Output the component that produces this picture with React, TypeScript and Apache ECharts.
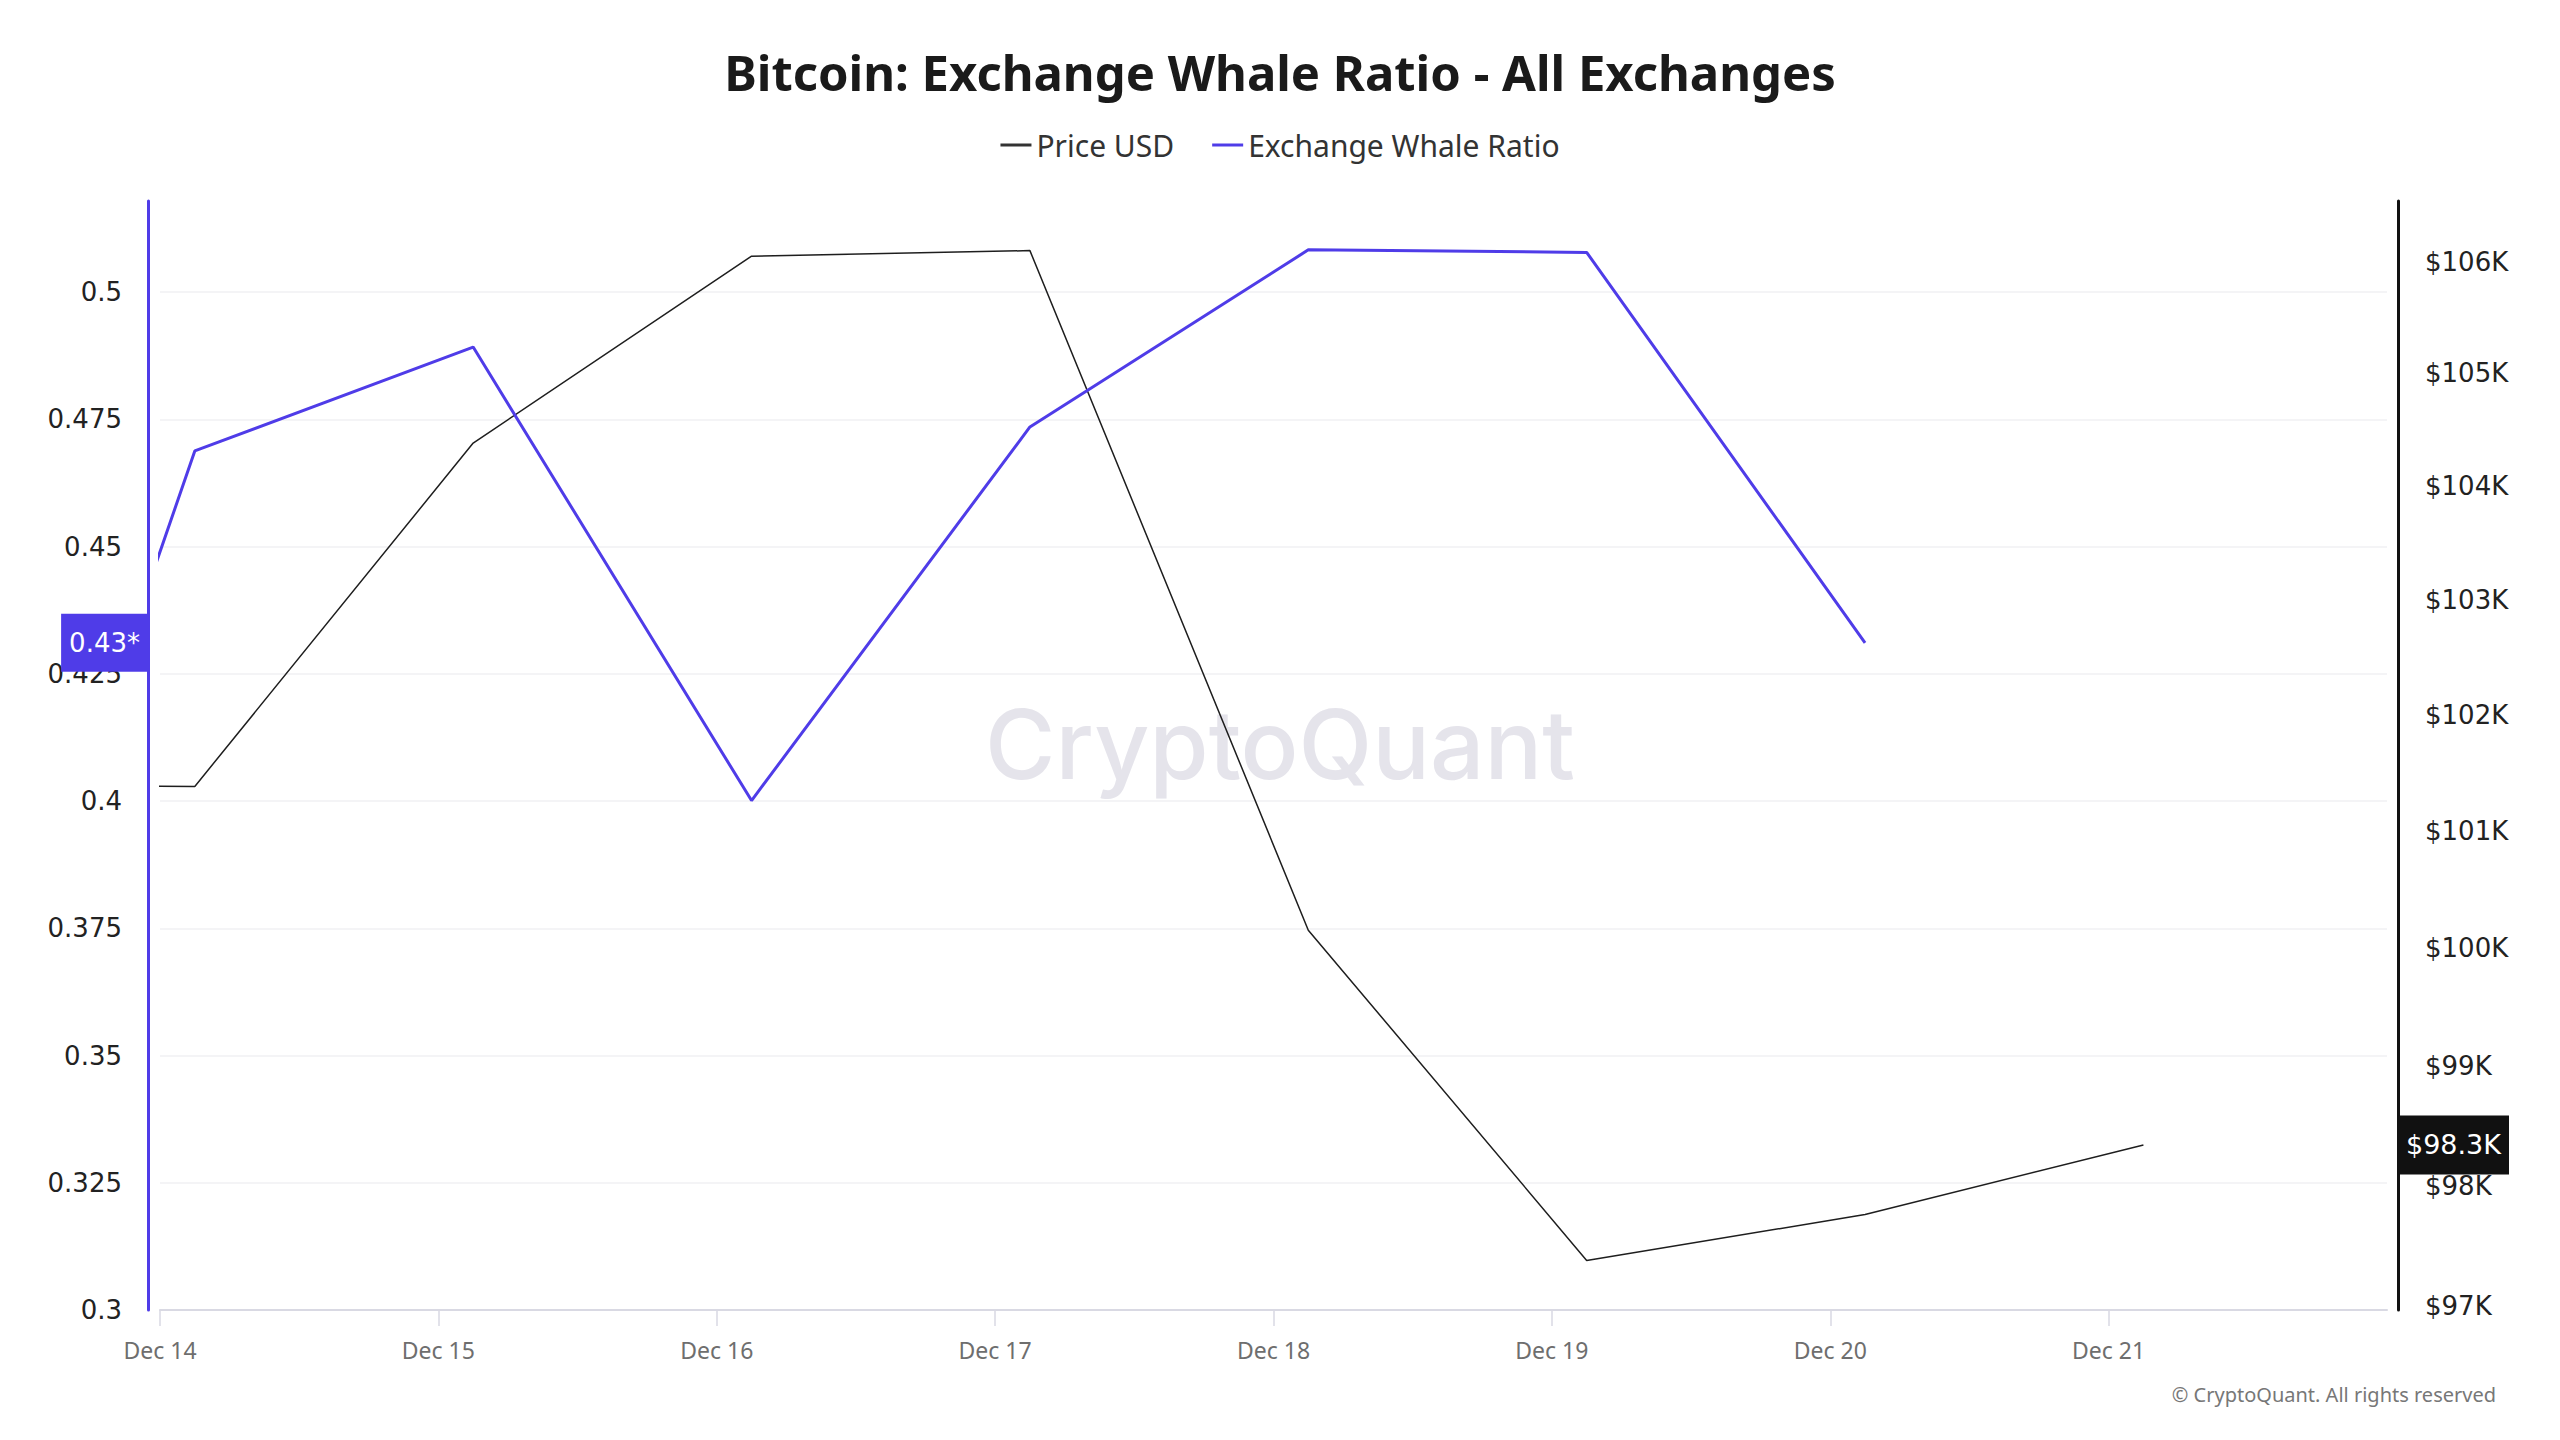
import React, { useEffect, useRef } from "react";
import * as echarts from "echarts";

// x positions: days since Dec 14 00:00 (each daily sample taken at 03:00)
const dayLabels = ["Dec 14", "Dec 15", "Dec 16", "Dec 17", "Dec 18", "Dec 19", "Dec 20", "Dec 21", "Dec 22"];
const sampleDays = [-0.875, 0.125, 1.125, 2.125, 3.125, 4.125, 5.125, 6.125, 7.125];
const priceUsd = [101390, 101380, 104380, 106050, 106100, 100150, 97380, 97760, 98340];
const whaleRatio = [0.31, 0.4688, 0.4892, 0.4001, 0.4735, 0.5083, 0.5078, 0.4311, null];
const ratioTicks = [0.3, 0.325, 0.35, 0.375, 0.4, 0.425, 0.45, 0.475, 0.5];
const priceTicks = [97000, 98000, 99000, 100000, 101000, 102000, 103000, 104000, 105000, 106000];
const dayTicks = [0, 1, 2, 3, 4, 5, 6, 7];

const PURPLE = "#4f3ce8";
const DARK = "#111111";

export default function App() {
  const ref = useRef<HTMLDivElement | null>(null);

  useEffect(() => {
    if (!ref.current) return;
    const chart = echarts.init(ref.current, undefined, { renderer: "svg" });

    const priceData = sampleDays.map((d, i) => [d, Math.log(priceUsd[i])]);
    const ratioData = sampleDays
      .map((d, i) => [d, whaleRatio[i]])
      .filter((p) => p[1] !== null);
    const lastRatio = ratioData[ratioData.length - 1][1] as number;
    const lastPrice = priceUsd[priceUsd.length - 1];

    const option: any = {
      animation: false,
      backgroundColor: "#ffffff",
      title: {
        text: "Bitcoin: Exchange Whale Ratio - All Exchanges",
        left: "center",
        top: 42,
        textStyle: { fontSize: 49, fontWeight: "bold", color: "#1a1a1a", fontFamily: "Noto Sans" },
      },
      legend: {
        top: 125,
        left: "center",
        icon: "rect",
        itemWidth: 31,
        itemHeight: 3,
        itemGap: 38,
        textStyle: { fontSize: 30, color: "#333", fontFamily: "Noto Sans" },
        data: [
          { name: "Price USD", itemStyle: { color: "#333333" } },
          { name: "Exchange Whale Ratio", itemStyle: { color: PURPLE } },
        ],
      },
      grid: { left: 160, right: 173, top: 201, bottom: 130, containLabel: false },
      xAxis: {
        type: "value",
        min: 0,
        max: 8,
        interval: 1,
        axisLine: { show: true, lineStyle: { color: "#d9d9e3", width: 2 } },
        axisTick: { show: true, length: 16, customValues: dayTicks, lineStyle: { color: "#d9d9e3", width: 1.5 } },
        axisLabel: {
          customValues: dayTicks,
          formatter: (v: number) => dayLabels[Math.round(v)],
          color: "#6e6e6e",
          fontSize: 23,
          fontFamily: "Noto Sans",
          margin: 28,
        },
        splitLine: { show: false },
      },
      yAxis: [
        {
          type: "value",
          position: "left",
          min: 0.3,
          max: 0.5179,
          interval: 0.025,
          offset: 12,
          axisLine: { show: true, onZero: false, lineStyle: { color: PURPLE, width: 3 } },
          axisTick: { show: false },
          axisLabel: {
            customValues: ratioTicks,
            color: "#222",
            fontSize: 26,
            fontFamily: "DejaVu Sans",
            margin: 26,
          },
          splitLine: {
            show: true,
            showMinLine: false,
            showMaxLine: false,
            lineStyle: { color: "#f0f0f3", width: 1.5 },
          },
          axisPointer: {
            show: true,
            type: "none",
            status: "show",
            value: lastRatio,
            triggerTooltip: false,
            label: {
              show: true,
              formatter: () => lastRatio.toFixed(2) + "*",
              backgroundColor: PURPLE,
              color: "#ffffff",
              padding: [16, 8],
              fontSize: 26,
              fontFamily: "DejaVu Sans",
              margin: 0,
              borderRadius: 0,
            },
          },
        },
        {
          type: "value",
          position: "right",
          min: Math.log(96971),
          max: Math.log(106548),
          offset: 11,
          axisLine: { show: true, onZero: false, lineStyle: { color: DARK, width: 3 } },
          axisTick: { show: false },
          axisLabel: {
            customValues: priceTicks.map((p) => Math.log(p)),
            formatter: (v: number) => "$" + Math.round(Math.exp(v) / 1000) + "K",
            color: "#222",
            fontSize: 26,
            fontFamily: "DejaVu Sans",
            margin: 27,
          },
          splitLine: { show: false },
          axisPointer: {
            show: true,
            type: "none",
            status: "show",
            value: Math.log(lastPrice),
            triggerTooltip: false,
            label: {
              show: true,
              formatter: () => "$" + (Math.floor(lastPrice / 100) / 10).toFixed(1) + "K",
              backgroundColor: DARK,
              color: "#ffffff",
              padding: [16, 8],
              fontSize: 27,
              fontFamily: "DejaVu Sans",
              margin: 0,
              borderRadius: 0,
            },
          },
        },
      ],
      graphic: [
        {
          type: "text",
          left: "center",
          top: 696,
          z: 0,
          silent: true,
          style: {
            text: "CryptoQuant",
            fontSize: 96,
            fontWeight: 500,
            fontFamily: "Inter",
            fill: "#e5e4eb",
          },
        },
        {
          type: "text",
          right: 64,
          top: 1384,
          silent: true,
          style: {
            text: "© CryptoQuant. All rights reserved",
            fontSize: 20,
            fontFamily: "Noto Sans",
            fill: "#777777",
          },
        },
      ],
      series: [
        {
          name: "Price USD",
          type: "line",
          yAxisIndex: 1,
          data: priceData,
          showSymbol: false,
          clip: true,
          lineStyle: { color: "#1e1e1e", width: 1.5 },
          itemStyle: { color: "#333333" },
          z: 3,
        },
        {
          name: "Exchange Whale Ratio",
          type: "line",
          yAxisIndex: 0,
          data: ratioData,
          showSymbol: false,
          clip: true,
          lineStyle: { color: PURPLE, width: 3 },
          itemStyle: { color: PURPLE },
          z: 4,
        },
      ],
    };

    chart.setOption(option);
    return () => chart.dispose();
  }, []);

  return (
    <div
      ref={ref}
      style={{ position: "fixed", left: 0, top: 0, width: 2560, height: 1440, background: "#fff" }}
    />
  );
}
